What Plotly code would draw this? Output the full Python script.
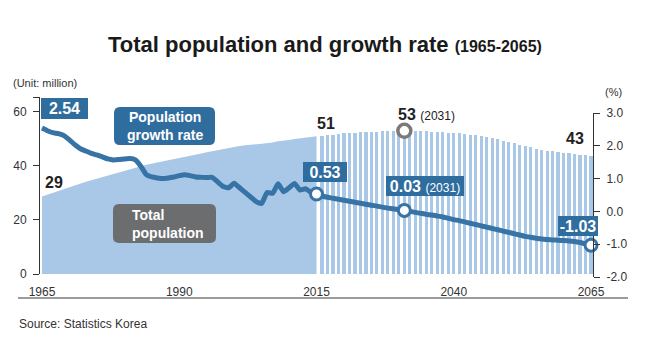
import plotly.graph_objects as go

# ---------------- data ----------------
years_hist = list(range(1965, 2016))
pop_hist = [28.7, 29.4, 30.1, 30.8, 31.5, 32.2, 32.9, 33.5, 34.1, 34.7,
            35.3, 35.8, 36.4, 37.0, 37.5, 38.1, 38.7, 39.3, 39.9, 40.4,
            40.8, 41.2, 41.6, 42.0, 42.4, 42.9, 43.3, 43.7, 44.2, 44.6,
            45.1, 45.5, 46.0, 46.3, 46.6, 47.0, 47.4, 47.6, 47.9, 48.0,
            48.2, 48.4, 48.7, 49.1, 49.3, 49.6, 50.0, 50.2, 50.4, 50.7,
            51.0]
years_proj = list(range(2016, 2066))
pop_proj = [51.2, 51.4, 51.6, 51.8, 52.0, 52.1, 52.3, 52.4, 52.5, 52.6,
            52.7, 52.8, 52.9, 52.9, 52.9, 53.0, 52.9, 52.9, 52.9, 52.8,
            52.7, 52.6, 52.5, 52.3, 52.2, 52.0, 51.8, 51.6, 51.3, 51.0,
            50.7, 50.3, 49.9, 49.4, 48.9, 48.4, 47.9, 47.4, 46.9, 46.4,
            46.0, 45.7, 45.4, 45.1, 44.9, 44.6, 44.4, 44.2, 44.0, 43.8]
years_all = list(range(1965, 2066))
growth = [2.54, 2.46, 2.40, 2.37, 2.31, 2.18, 2.03, 1.91, 1.84, 1.77,
          1.72, 1.66, 1.60, 1.57, 1.58, 1.60, 1.61, 1.57, 1.38, 1.12,
          1.05, 1.02, 1.00, 1.02, 1.05, 1.09, 1.12, 1.09, 1.05, 1.04,
          1.03, 1.04, 0.90, 0.76, 0.72, 0.86, 0.72, 0.58, 0.44, 0.30,
          0.24, 0.58, 0.55, 0.84, 0.60, 0.72, 0.85, 0.65, 0.69, 0.58,
          0.53,
          0.47, 0.43, 0.40, 0.37, 0.34, 0.31, 0.28, 0.25, 0.22, 0.19,
          0.16, 0.13, 0.10, 0.08, 0.05, 0.03, 0.00, -0.03, -0.06, -0.09,
          -0.11, -0.14, -0.17, -0.21, -0.25, -0.28, -0.32, -0.36, -0.40, -0.44,
          -0.48, -0.52, -0.56, -0.60, -0.64, -0.68, -0.72, -0.76, -0.79, -0.82,
          -0.84, -0.86, -0.87, -0.88, -0.89, -0.90, -0.92, -0.95, -0.99, -1.03]
highlight_years = [2015, 2031, 2065]
x_ticks = [1965, 1990, 2015, 2040, 2065]
left_ticks = [0, 20, 40, 60]
right_ticks = [-2, -1, 0, 1, 2, 3]

# ---------------- style ----------------
FONT = "Liberation Sans, Arial, Helvetica, sans-serif"
AREA = "#a9c8e7"
BLUE = "#3773a5"
BOXBLUE = "#2f6d9e"
GRAY = "#6c6d6f"
TXT = "#333333"

W, H = 650, 352
L, R, T, B = 40, 593, 97, 277   # plot area in pixels


def px(x):
    return (x - L) / (R - L)


def py(y):
    return (B - y) / (B - T)


rate = dict(zip(years_all, growth))
pop = dict(zip(years_hist + years_proj, pop_hist + pop_proj))

fig = go.Figure()

fig.add_trace(go.Scatter(x=years_hist, y=pop_hist, mode="lines", fill="tozeroy",
                         fillcolor=AREA, line=dict(width=0, color=AREA),
                         yaxis="y", hoverinfo="skip"))
fig.add_trace(go.Bar(x=years_proj, y=pop_proj, width=0.58, marker=dict(color=AREA, line=dict(width=0)),
                     yaxis="y", hoverinfo="skip"))
fig.add_trace(go.Scatter(x=years_all, y=growth, mode="lines", yaxis="y2",
                         line=dict(color=BLUE, width=5, shape="spline", smoothing=0.4)))
fig.add_trace(go.Scatter(x=[2031], y=[pop[2031]], mode="markers", yaxis="y", cliponaxis=False,
                         marker=dict(size=13, color="white", line=dict(color="#7a7a7a", width=3.5))))
fig.add_trace(go.Scatter(x=highlight_years, y=[rate[yv] for yv in highlight_years], mode="markers",
                         yaxis="y2", cliponaxis=False,
                         marker=dict(size=12, color="white", line=dict(color=BLUE, width=3))))

ann = []


def box_label(year, value, text, w, h, xshift, yshift, axis="y2"):
    ann.append(dict(x=year, y=value, xref="x", yref=axis, text=text, showarrow=False,
                    xanchor="center", yanchor="bottom", xshift=xshift, yshift=yshift,
                    width=w, height=h, bgcolor=BOXBLUE, borderpad=0, borderwidth=0,
                    font=dict(family=FONT, size=16, color="white")))


box_label(1965, rate[1965], "<b>2.54</b>", 47, 21, 22.5, 9.5)
box_label(2015, rate[2015], "<b>0.53</b>", 44, 20, 8.5, 12.5)
box_label(2031, rate[2031], "<b>0.03</b> <span style='font-size:12px'>(2031)</span>", 78, 20, 20.5, 14)
box_label(2065, rate[2065], "<b>-1.03</b>", 40, 20, -13, 9.5)


def pop_label(year, text, xshift, yshift, xanchor="center"):
    ann.append(dict(x=year, y=pop[year], xref="x", yref="y", text=text, showarrow=False,
                    xanchor=xanchor, yanchor="middle", xshift=xshift, yshift=yshift,
                    font=dict(family=FONT, size=16, color="#222222")))


pop_label(1965, "<b>29</b>", 12.5, 14)
pop_label(2015, "<b>51</b>", 9.5, 13)
pop_label(2031, "<b>53</b> <span style='font-size:12px'>(2031)</span>", -8.5, 16, "left")
pop_label(2065, "<b>43</b>", -16, 17)


def ptext(x, y, text, size, color=TXT, xanchor="left", yanchor="middle", align="left"):
    ann.append(dict(x=px(x), y=py(y), xref="paper", yref="paper", text=text, showarrow=False,
                    xanchor=xanchor, yanchor=yanchor, align=align,
                    font=dict(family=FONT, size=size, color=color)))


ptext(325, 45, "<b>Total population and growth rate</b> <span style='font-size:16px'><b>(1965-2065)</b></span>",
      22, "#1a1a1a", "center")
ptext(11, 83, "(Unit: million)", 11)
ptext(613, 92, "(%)", 11, xanchor="center")
ptext(17, 324, "Source: Statistics Korea", 12)

# legend-like boxes text
ptext(164.5, 126, "<b>Population</b><br><b>growth rate</b>", 14, "white", "center", align="center")
ptext(130, 224, "<b>Total</b><br><b>population</b>", 14, "white", "left", align="left")


def rounded(x0, y0, x1, y1, r):
    pts = [
        ("M", [(x0 + r, y0)]), ("L", [(x1 - r, y0)]), ("Q", [(x1, y0), (x1, y0 + r)]),
        ("L", [(x1, y1 - r)]), ("Q", [(x1, y1), (x1 - r, y1)]), ("L", [(x0 + r, y1)]),
        ("Q", [(x0, y1), (x0, y1 - r)]), ("L", [(x0, y0 + r)]), ("Q", [(x0, y0), (x0 + r, y0)]),
    ]
    s = ""
    for cmd, ps in pts:
        s += cmd + " " + " ".join(f"{px(a):.5f},{py(b):.5f}" for a, b in ps) + " "
    return s + "Z"


shapes = [
    dict(type="path", xref="paper", yref="paper", path=rounded(114, 107, 215, 145, 6),
         fillcolor=BOXBLUE, line=dict(width=0), layer="above"),
    dict(type="path", xref="paper", yref="paper", path=rounded(113, 204, 216, 243, 6),
         fillcolor=GRAY, line=dict(width=0), layer="above"),
    dict(type="line", xref="paper", yref="paper", x0=px(18), x1=px(628), y0=py(298), y1=py(298),
         line=dict(color="#9b9b9b", width=2)),
]

axis_font = dict(family=FONT, size=12, color=TXT)
fig.update_layout(
    width=W, height=H, margin=dict(l=L, r=W - R, t=T, b=H - B),
    paper_bgcolor="white", plot_bgcolor="rgba(0,0,0,0)", showlegend=False,
    bargap=0, annotations=ann, shapes=shapes,
    xaxis=dict(range=[1964.64, 2065.36], tickvals=x_ticks, showline=False, ticks="",
               showgrid=False, zeroline=False, tickfont=axis_font, anchor="y2",
               ticklabelstandoff=6),
    yaxis=dict(domain=[py(274), 1], range=[0, 65.5], tickvals=left_ticks + [65.5],
               ticktext=[str(v) for v in left_ticks] + [""], showline=True, linecolor=TXT,
               linewidth=1, ticks="outside", ticklen=6, tickcolor=TXT, showgrid=False,
               zeroline=False, tickfont=axis_font, anchor="x", ticklabelstandoff=4),
    yaxis2=dict(domain=[0, py(113)], range=[-2, 3], tickvals=right_ticks,
                ticktext=[f"{v:.1f}" for v in right_ticks], side="right", anchor="x",
                showline=True, linecolor=TXT, linewidth=1, ticks="outside", ticklen=6,
                tickcolor=TXT, showgrid=False, zeroline=False, tickfont=axis_font,
                ticklabelstandoff=4),
)

fig.write_html("out.html")
